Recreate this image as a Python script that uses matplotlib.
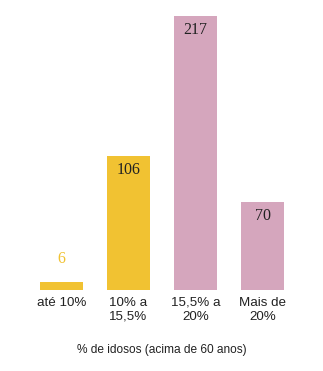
import matplotlib
matplotlib.use("Agg")
import matplotlib.pyplot as plt

# data
categories = ["até 10%", "10% a\n15,5%", "15,5% a\n20%", "Mais de\n20%"]
counts = [6, 106, 217, 70]
bar_colors = ["#f1c232", "#f1c232", "#d5a6bd", "#d5a6bd"]

W, H = 323, 371
fig = plt.figure(figsize=(W / 100, H / 100), dpi=100)
ax = fig.add_axes([28 / W, 81 / H, 268 / W, 280 / H])

x = list(range(len(categories)))
bars = ax.bar(x, counts, width=0.64, color=bar_colors, linewidth=0)

ax.set_xlim(-0.5, 3.5)
ax.set_ylim(0, 280 / (274 / 217))

# value labels: inside the bar top, or above it when the bar is tiny
for b, v, c in zip(bars, counts, bar_colors):
    cx = b.get_x() + b.get_width() / 2
    if v < 20:
        ax.annotate(str(v), (cx, v), xytext=(0, 17), textcoords="offset points",
                    ha="center", va="center", fontsize=11.5,
                    family="Liberation Serif", color=c)
    else:
        ax.annotate(str(v), (cx, v), xytext=(0, -10), textcoords="offset points",
                    ha="center", va="center", fontsize=11.5,
                    family="Liberation Serif", color="#222222")

ax.set_xticks(x)
ax.set_xticklabels(categories, fontsize=9.6, family="Liberation Sans",
                   color="#222222", linespacing=1.2)
ax.tick_params(axis="x", length=0, pad=5)
ax.set_yticks([])
for s in ax.spines.values():
    s.set_visible(False)

ax.set_xlabel("% de idosos (acima de 60 anos)", fontsize=8.6,
              family="Liberation Sans", color="#222222", labelpad=15)

fig.savefig("out.png", dpi=100)
plt.close(fig)
